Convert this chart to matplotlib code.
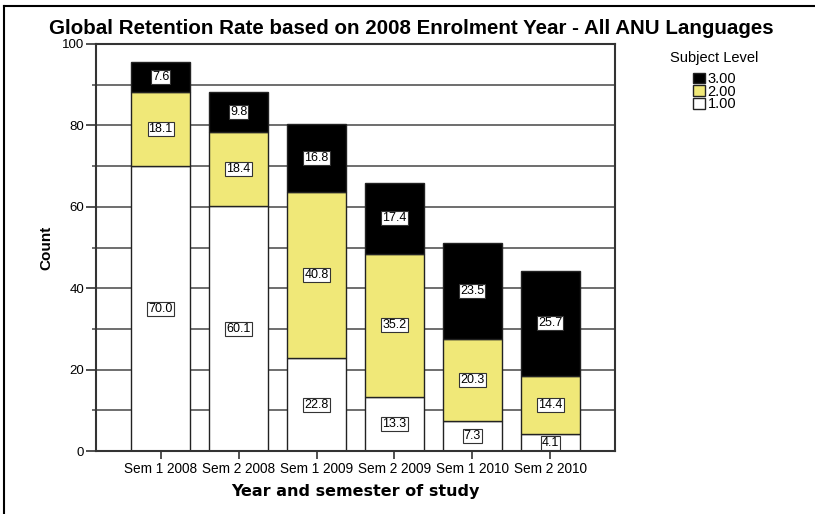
import matplotlib.pyplot as plt
import numpy as np

plt.rcParams['font.family'] = ['Liberation Sans', 'DejaVu Sans']

semesters = ['Sem 1 2008', 'Sem 2 2008', 'Sem 1 2009', 'Sem 2 2009', 'Sem 1 2010', 'Sem 2 2010']
level_1 = [70.0, 60.1, 22.8, 13.3, 7.3, 4.1]
level_2 = [18.1, 18.4, 40.8, 35.2, 20.3, 14.4]
level_3 = [7.6, 9.8, 16.8, 17.4, 23.5, 25.7]
levels = ['1.00', '2.00', '3.00']
colours = ['#ffffff', '#f0e878', '#000000']

fig = plt.figure(figsize=(8.15, 5.14), dpi=100)
ax = fig.add_axes([96 / 815, 1 - 451 / 514, 519 / 815, 407 / 514])

x = np.arange(len(semesters))
bottom = np.zeros(len(semesters))
handles = []
for vals, lev, col in zip([level_1, level_2, level_3], levels, colours):
    bars = ax.bar(x, vals, 0.75, bottom=bottom, color=col, edgecolor='#222222',
                  linewidth=1.0, label=lev, zorder=2)
    handles.append(bars)
    for xi, b, v in zip(x, bottom, vals):
        ax.text(xi, b + v / 2, f'{v:.1f}', ha='center', va='center', fontsize=9,
                zorder=4, bbox=dict(boxstyle='square,pad=0.08', fc='white',
                                    ec='#333333', lw=0.8))
    bottom += np.array(vals)

ax.set_xlim(-0.83, 5.83)
ax.set_ylim(0, 100)
ax.set_yticks(range(0, 101, 20))
ax.set_yticks(range(10, 100, 20), minor=True)
ax.yaxis.grid(True, which='both', color='#555555', linewidth=1.2, zorder=0)
ax.set_axisbelow(True)
ax.tick_params(axis='y', which='major', length=7.5, width=1.2, labelsize=9.5, color='#333333', pad=1)
ax.tick_params(axis='y', which='minor', length=3, width=1.2, color='#555555')
ax.tick_params(axis='x', length=6, width=1.2, labelsize=9.8, color='#333333', pad=2)
ax.set_xticks(x)
ax.set_xticklabels(semesters)
for s in ax.spines.values():
    s.set_linewidth(1.5)
    s.set_color('#333333')

ax.set_ylabel('Count', fontsize=11, fontweight='bold', labelpad=6)
ax.set_xlabel('Year and semester of study', fontsize=11.5, fontweight='bold', labelpad=6,
              family='DejaVu Sans')
fig.text(411 / 815, 1 - 29 / 514, 'Global Retention Rate based on 2008 Enrolment Year - All ANU Languages',
         ha='center', va='center', fontsize=14.8, fontweight='bold')

leg = fig.legend(handles[::-1], levels[::-1], title='Subject Level', loc='upper left',
                 bbox_to_anchor=(663 / 815, 1 - 44 / 514), frameon=False, fontsize=10.5,
                 title_fontsize=10.5, handlelength=0.85, handleheight=0.75, handletextpad=0.15,
                 labelspacing=-0.1, borderpad=0)
leg._legend_box.align = 'center'
leg._legend_box.sep = 5

# outer frame lines on left and top
fig.add_artist(plt.Line2D([4 / 815, 4 / 815], [0, 1 - 6 / 514], color='black', lw=1.5))
fig.add_artist(plt.Line2D([4 / 815, 1], [1 - 6 / 514, 1 - 6 / 514], color='black', lw=1.5))

fig.savefig('out.png', dpi=100)
